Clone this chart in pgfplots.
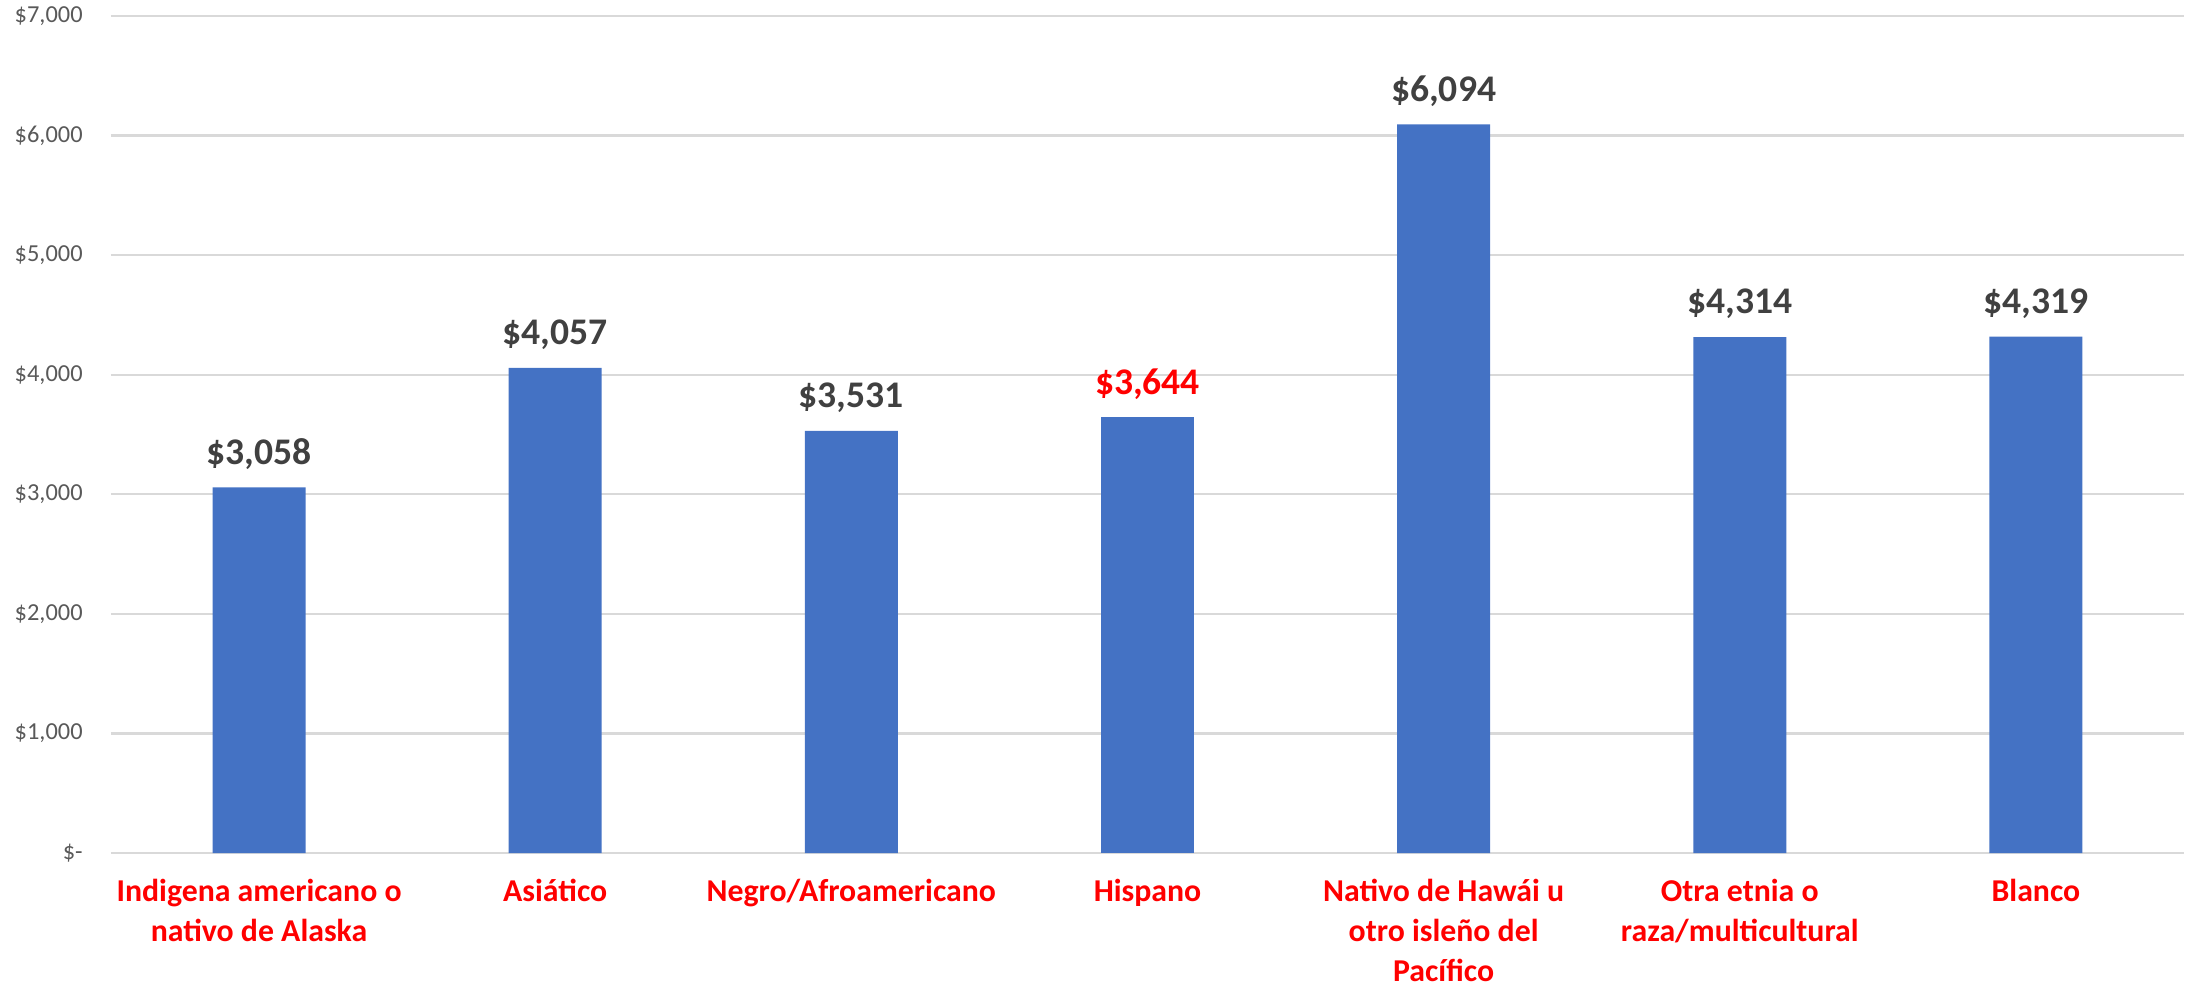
\documentclass[border=0pt]{standalone}
\usepackage{pgfplots}
\pgfplotsset{compat=1.18}
\usepackage{fontspec}
\setmainfont{Carlito}
\definecolor{barblue}{HTML}{4472C4}
\definecolor{gridgray}{HTML}{D9D9D9}
\definecolor{ticktext}{HTML}{595959}
\definecolor{labeltext}{HTML}{404040}
\definecolor{redtxt}{HTML}{FF0000}
\begin{document}
\begin{tikzpicture}
\begin{axis}[
  scale only axis,
  width=1036.5pt, height=418.5pt,
  xmin=-0.5, xmax=6.5,
  ymin=0, ymax=7000,
  separate axis lines,
  axis x line*=bottom,
  axis y line*=left,
  x axis line style={gridgray, line width=1.2pt, -},
  y axis line style={draw=none},
  ymajorgrids,
  grid style={gridgray, line width=1.2pt},
  major tick length=0pt,
  ytick={0,1000,2000,3000,4000,5000,6000,7000},
  yticklabels={{\$-},{\$1,000},{\$2,000},{\$3,000},{\$4,000},{\$5,000},{\$6,000},{\$7,000}},
  yticklabel style={font=\fontsize{12.2}{14}\selectfont, text=ticktext, anchor=east, inner sep=0pt, xshift=-14pt},
  xtick={0,1,2,3,4,5,6},
  xticklabels={{Indigena americano o\\nativo de Alaska},{Asiático},{Negro/Afroamericano},{Hispano},{Nativo de Hawái u\\otro isleño del\\Pacífico},{Otra etnia o\\raza/multicultural},{Blanco}},
  xticklabel style={font=\bfseries\fontsize{15.9}{20}\selectfont, text=redtxt, align=center, anchor=north, inner sep=0pt, yshift=-13pt},
  ytick style={draw=none},
  xtick style={draw=none},
  bar width=46.5pt,
  point meta=explicit symbolic,
  nodes near coords,
  nodes near coords style={anchor=center, yshift=16.5pt, font=\bfseries\fontsize{18.8}{22}\selectfont},
  clip=false,
]
\addplot[ybar, bar shift=0pt, fill=barblue, draw=none, nodes near coords style={text=labeltext}] coordinates {
  (0,3058) [\$3,058]
  (1,4057) [\$4,057]
  (2,3531) [\$3,531]
  (4,6094) [\$6,094]
  (5,4314) [\$4,314]
  (6,4319) [\$4,319]
};
\addplot[ybar, bar shift=0pt, fill=barblue, draw=none, nodes near coords style={text=redtxt}] coordinates {
  (3,3644) [\$3,644]
};
\end{axis}
\pgfresetboundingbox
\path (-55.5pt,-67pt) rectangle (1040pt,426.5pt);
\end{tikzpicture}
\end{document}
